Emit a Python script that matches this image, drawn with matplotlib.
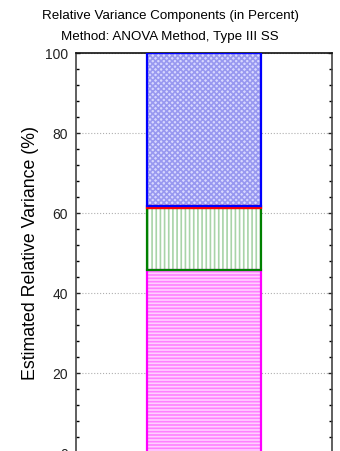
import numpy as np
import matplotlib.pyplot as plt

plt.rcParams['font.family'] = ['Liberation Sans', 'DejaVu Sans']
plt.rcParams['hatch.linewidth'] = 1.2

# DATA:
# ==================================================================
components = ['Error', 'Comp 3', 'Comp 2', 'Comp 1']
percent    = [45.8, 15.5, 0.5, 38.2]
edge_cols  = ['#ff00ff', '#008000', '#ff0000', '#0000ff']
face_cols  = ['#ffd0ff', '#ffffff', '#ffb0b0', '#d8d8ff']
hatch_cols = ['#ff80ff', '#a8d4a8', '#ff6060', '#9898f0']
hatches    = ['-----', '||||', '', 'xxxxxx']

# MAKE PLOT:
# ==================================================================
fig = plt.figure(figsize=(3.40, 4.51), dpi=100)
ax  = fig.add_axes([0.2245, -0.0055, 0.7520, 0.8875])

bottom = 0.
for i, val in enumerate(percent):
    ax.bar(0, val, width=0.448, bottom=bottom, color=face_cols[i],
           hatch=hatches[i], edgecolor=hatch_cols[i], linewidth=0, zorder=2)
    ax.bar(0, val, width=0.448, bottom=bottom, fill=False,
           edgecolor=edge_cols[i], linewidth=1.6, zorder=3)
    bottom += val

ax.set_xlim(-0.5, 0.5)
ax.set_ylim(0, 100)
ax.set_xticks([0])
ax.set_xticklabels([''])
ax.set_yticks([0, 20, 40, 60, 80, 100])
ax.set_yticks(np.arange(0, 101, 4), minor=True)
ax.tick_params(direction='in', top=True, right=True, labelsize=10,
               length=3, width=1, pad=6, colors='#222222')
ax.tick_params(which='minor', direction='in', right=True, length=2, width=1)
ax.yaxis.grid(True, linestyle=':', color='#b0b0b0', linewidth=0.8, zorder=0)
for s in ax.spines.values():
    s.set_color('#444444')
    s.set_linewidth(1.2)
ax.spines['top'].set_color('#111111')

ax.set_ylabel('Estimated Relative Variance (%)', fontsize=12.8, labelpad=4)

fig.text(0.5, 0.965, 'Relative Variance Components (in Percent)',
         ha='center', va='center', fontsize=9.6)
fig.text(0.5, 0.919, 'Method: ANOVA Method, Type III SS',
         ha='center', va='center', fontsize=9.6)

plt.savefig('out.png', dpi=100)
